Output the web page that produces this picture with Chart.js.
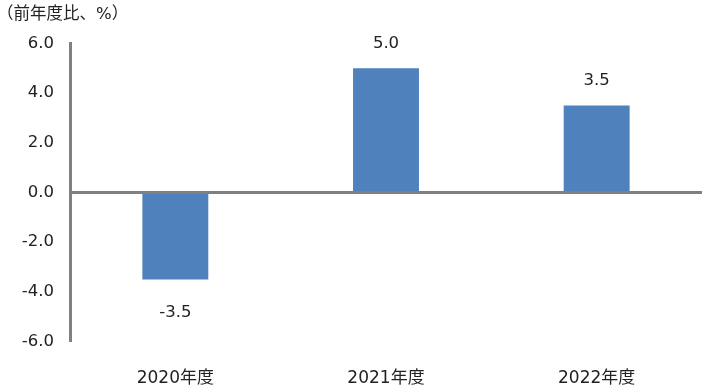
<!DOCTYPE html>
<html><head><meta charset="utf-8">
<script src="https://cdn.jsdelivr.net/npm/chart.js@4"></script>
<style>html,body{margin:0;padding:0;background:#fff}#wrap{width:709px;height:390px}</style>
</head><body><div id="wrap"><canvas id="c" width="709" height="390"></canvas></div>
<script>
const categories = ['2020年度', '2021年度', '2022年度'];
const values = [-3.5, 5.0, 3.5];
const valueLabels = ['-3.5', '5.0', '3.5'];
const unitLabel = '（前年度比、%）';
const FONT = '"DejaVu Sans", "Noto Sans CJK JP", sans-serif';

const labelPlugin = {
  id: 'labels',
  afterDatasetsDraw(chart) {
    const ctx = chart.ctx;
    const meta = chart.getDatasetMeta(0);
    ctx.save();
    ctx.font = '16.5px ' + FONT;
    ctx.fillStyle = '#222';
    ctx.textAlign = 'center';
    ctx.textBaseline = 'middle';
    meta.data.forEach((bar, i) => {
      const v = values[i];
      const y = v >= 0 ? bar.y - 25 : bar.y + 33;
      ctx.fillText(valueLabels[i], bar.x, y);
    });
    ctx.font = '16.5px ' + FONT;
    ctx.textAlign = 'left';
    ctx.fillText(unitLabel, -3, 15);
    ctx.restore();
  }
};

new Chart(document.getElementById('c'), {
  type: 'bar',
  data: {
    labels: categories,
    datasets: [{
      data: values,
      backgroundColor: '#4f81bd',
      barPercentage: 0.313,
      categoryPercentage: 1.0
    }]
  },
  options: {
    responsive: false,
    animation: false,
    devicePixelRatio: 1,
    layout: { padding: { left: 0, right: 7, top: 43.5, bottom: 0 } },
    plugins: { legend: { display: false }, tooltip: { enabled: false }, title: { display: false } },
    scales: {
      x: {
        grid: { display: false, drawTicks: false },
        border: { display: false },
        ticks: { color: '#222', font: { size: 17, family: FONT }, padding: 27 },
        afterFit(s) { s.height = 48.5; }
      },
      y: {
        min: -6, max: 6,
        ticks: { stepSize: 2, color: '#222', font: { size: 16.5, family: FONT }, padding: 16,
          callback: v => v.toFixed(1) },
        grid: {
          drawTicks: false,
          color: c => c.tick && c.tick.value === 0 ? '#808080' : 'rgba(0,0,0,0)',
          lineWidth: c => c.tick && c.tick.value === 0 ? 3 : 0
        },
        border: { display: true, color: '#808080', width: 3 },
        afterFit(s) { s.width = 70; }
      }
    }
  },
  plugins: [labelPlugin]
});
</script></body></html>
